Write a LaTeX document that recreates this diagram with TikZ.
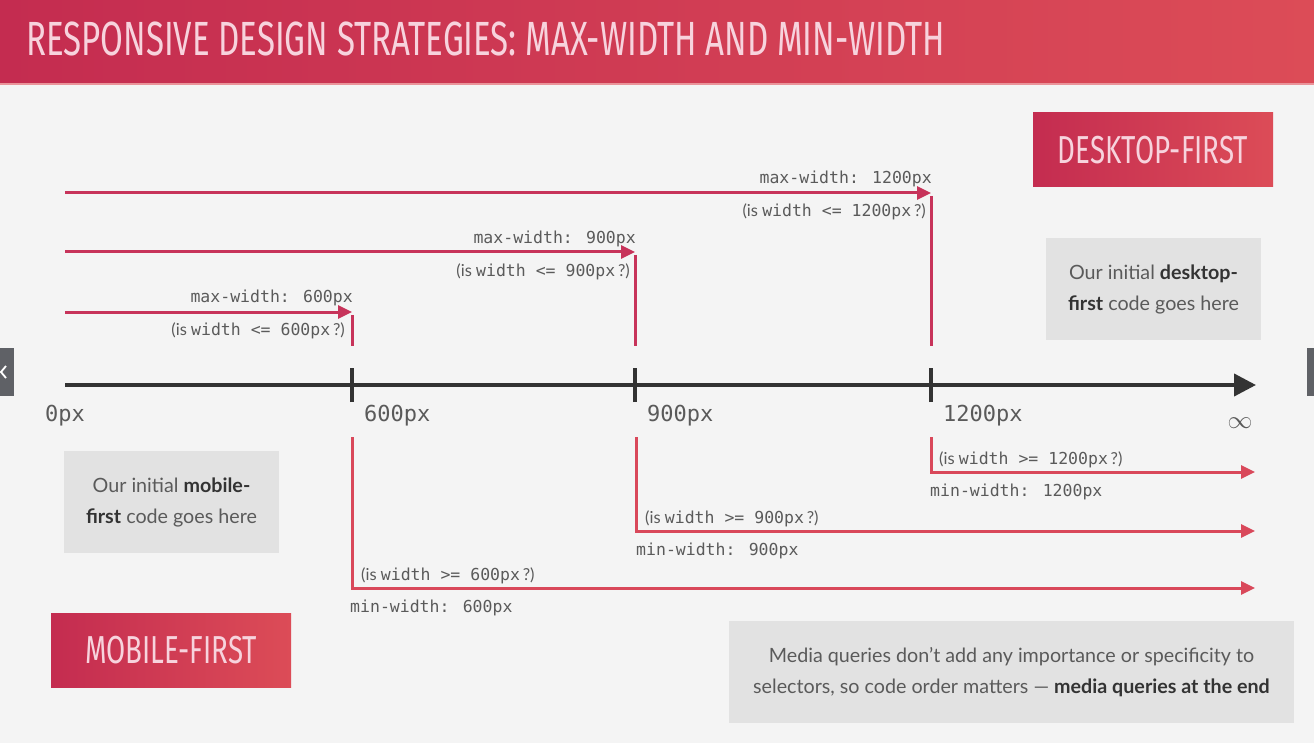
\documentclass[tikz,border=0pt]{standalone}
\usepackage{fontspec}
\setmainfont{Lato}
\newfontfamily\monof{DejaVu Sans Mono}
\newfontfamily\titlef[FakeStretch=0.71]{Fira Sans}
\newfontfamily\headf[FakeStretch=0.688]{Fira Sans}
\usetikzlibrary{arrows.meta}

\definecolor{pagebg}{HTML}{F4F4F4}
\definecolor{redL}{HTML}{C42C50}
\definecolor{redR}{HTML}{DC4C57}
\definecolor{maxred}{HTML}{C7335A}
\definecolor{minred}{HTML}{D9485A}
\definecolor{axisgrey}{HTML}{333333}
\definecolor{boxgrey}{HTML}{E2E2E2}
\definecolor{txtgrey}{HTML}{5A5A5A}
\definecolor{txtdark}{HTML}{333333}
\definecolor{titlepink}{HTML}{F7D3DD}
\definecolor{tabgrey}{HTML}{5F6166}

% "(is width <= 600px ?)" style question: sans parens, mono condition
\newcommand{\widthq}[2]{(is {\monof width #1 #2}\,?)}

\tikzset{
  monolabel/.style={font=\monof\fontsize{16.5}{19}\selectfont, text=txtgrey, inner sep=0pt},
  ticklabel/.style={font=\monof\fontsize{22}{26}\selectfont, text=txtgrey, inner sep=0pt},
  questlabel/.style={font=\fontsize{16.5}{19}\selectfont, text=txtgrey, inner sep=0pt},
  notebox/.style={fill=boxgrey, inner sep=0pt, align=center, text=txtgrey,
                  font=\fontsize{19.7}{31}\selectfont},
  tagbox/.style={left color=redL, right color=redR, inner sep=0pt, text=titlepink,
                 font=\titlef\fontsize{39}{44}\selectfont},
  axisline/.style={axisgrey, line width=4pt},
  maxarrow/.style={maxred, line width=3pt, -{Triangle[length=14pt,width=13pt]}},
  maxdrop/.style={maxred, line width=3pt},
  minarrow/.style={minred, line width=3pt, -{Triangle[length=14pt,width=13pt]}},
}

\begin{document}
\begin{tikzpicture}[x=1pt,y=-1pt]
\useasboundingbox (0,0) rectangle (1314,743);
\fill[pagebg] (0,0) rectangle (1314,743);

% header bar
\shade[left color=redL, right color=redR] (0,0) rectangle (1314,84);
\fill[redR!60!white] (0,83) rectangle (1314,85);
\node[anchor=west, inner sep=0pt, text=titlepink, font=\headf\fontsize{48}{52}\selectfont]
  (title) at (26,39) {RESPONSIVE DESIGN STRATEGIES: MAX-WIDTH AND MIN-WIDTH};

% side navigation tabs
\fill[tabgrey] (0,348) rectangle (14,396);
\draw[white, line width=1.8pt] (6,366) -- (1,372) -- (6,378);
\fill[tabgrey] (1307,348) rectangle (1314,396);

% axis
\coordinate (o) at (65,385);
\coordinate (t600) at (352,385);
\coordinate (t900) at (635,385);
\coordinate (t1200) at (931,385);
\coordinate (inf) at (1256,385);
\draw[axisline, -{Triangle[length=22pt,width=22pt]}] (o) -- (inf);
\foreach \t in {t600,t900,t1200}
  \draw[axisline] ([yshift=-17pt]\t) -- ([yshift=17pt]\t);

\node[ticklabel, anchor=west] (l0) at (45,416) {0px};
\node[ticklabel, anchor=west] (l600) at (364,416) {600px};
\node[ticklabel, anchor=west] (l900) at (647,416) {900px};
\node[ticklabel, anchor=west] (l1200) at (943,416) {1200px};
\node[inner sep=0pt, text=txtgrey, font=\fontsize{27}{30}\selectfont] (linf) at (1240,423) {$\infty$};

% max-width (desktop-first) arrows
\coordinate (mx600s) at (65,312);   \coordinate (mx600c) at (352,312);  \coordinate (mx600e) at (352,346);
\coordinate (mx900s) at (65,252);   \coordinate (mx900c) at (635,252);  \coordinate (mx900e) at (635,346);
\coordinate (mx1200s) at (65,193);  \coordinate (mx1200c) at (931,193); \coordinate (mx1200e) at (931,346);
\foreach \n in {600,900,1200}{
  \draw[maxarrow] (mx\n s) -- (mx\n c);
  \draw[maxdrop] ([yshift=-3pt]mx\n c) -- (mx\n e);
}
\node[monolabel, anchor=east] (mxl600) at (353,298) {max-width: 600px};
\node[questlabel, anchor=east] (mxq600) at (345,331) {\widthq{<=}{600px}};
\node[monolabel, anchor=east] (mxl900) at (636,239) {max-width: 900px};
\node[questlabel, anchor=east] (mxq900) at (630,272) {\widthq{<=}{900px}};
\node[monolabel, anchor=east] (mxl1200) at (932,179) {max-width: 1200px};
\node[questlabel, anchor=east] (mxq1200) at (926,212) {\widthq{<=}{1200px}};

% min-width (mobile-first) arrows
\coordinate (mn600s) at (352,437);  \coordinate (mn600c) at (352,588);  \coordinate (mn600e) at (1255,588);
\coordinate (mn900s) at (636,437);  \coordinate (mn900c) at (636,531);  \coordinate (mn900e) at (1255,531);
\coordinate (mn1200s) at (931,437); \coordinate (mn1200c) at (931,472); \coordinate (mn1200e) at (1255,472);
\foreach \n in {600,900,1200}
  \draw[minarrow] (mn\n s) -- (mn\n c) -- (mn\n e);
\node[questlabel, anchor=west] (mnq600) at (361,576) {\widthq{>=}{600px}};
\node[monolabel, anchor=west] (mnl600) at (350,608) {min-width: 600px};
\node[questlabel, anchor=west] (mnq900) at (645,519) {\widthq{>=}{900px}};
\node[monolabel, anchor=west] (mnl900) at (636,551) {min-width: 900px};
\node[questlabel, anchor=west] (mnq1200) at (939,460) {\widthq{>=}{1200px}};
\node[monolabel, anchor=west] (mnl1200) at (930,492) {min-width: 1200px};

% strategy tags
\node[tagbox, minimum width=240pt, minimum height=74pt] (desk) at (1153,150) {DESKTOP-FIRST};
\node[tagbox, minimum width=240pt, minimum height=74pt] (mob) at (171,650) {MOBILE-FIRST};

% notes
\node[notebox, minimum width=215pt, minimum height=102pt] (desknote) at (1153.5,289)
  {Our initial \textcolor{txtdark}{\textbf{desktop-}}\\\textcolor{txtdark}{\textbf{first}} code goes here};
\node[notebox, minimum width=215pt, minimum height=102pt] (mobnote) at (171.5,502)
  {Our initial \textcolor{txtdark}{\textbf{mobile-}}\\\textcolor{txtdark}{\textbf{first}} code goes here};
\node[notebox, minimum width=565pt, minimum height=102pt] (mqnote) at (1011.5,672)
  {Media queries don’t add any importance or specificity to\\
   selectors, so code order matters — \textcolor{txtdark}{\textbf{media queries at the end}}};
\end{tikzpicture}
\end{document}
